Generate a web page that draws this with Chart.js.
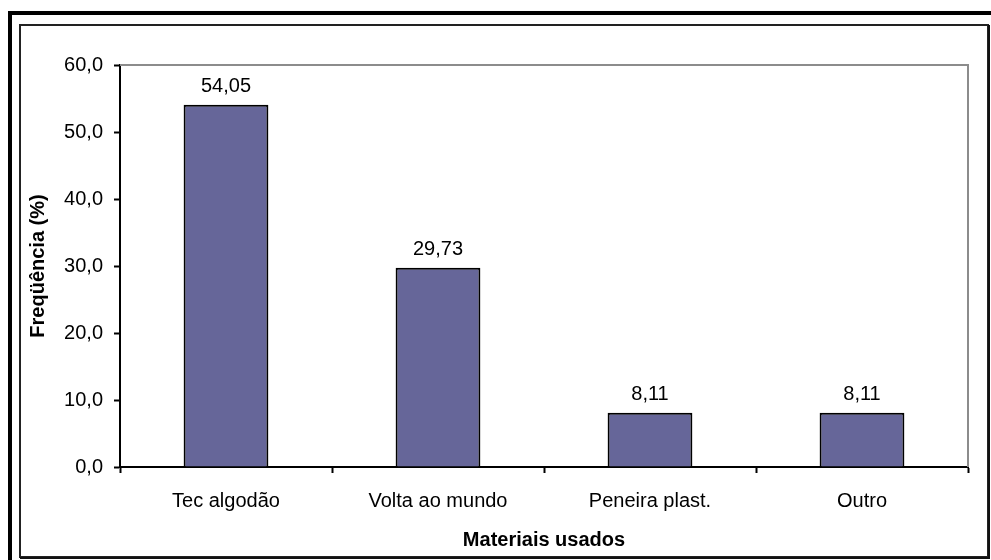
<!DOCTYPE html>
<html>
<head>
<meta charset="utf-8">
<title>Materiais usados</title>
<script src="https://cdn.jsdelivr.net/npm/chart.js@4.4.1/dist/chart.umd.min.js"></script>
<style>
  html, body { margin: 0; padding: 0; background: #fff; }
  #wrap { width: 991px; height: 560px; position: relative; }
</style>
</head>
<body>
<div id="wrap"><canvas id="myChart" width="991" height="560"></canvas></div>
<script>
"use strict";
const categories = ["Tec algodão", "Volta ao mundo", "Peneira plast.", "Outro"];
const frequencia = [54.05, 29.73, 8.11, 8.11];
const yTicks = [0, 10, 20, 30, 40, 50, 60];

const FONT = "'Liberation Sans', Arial, sans-serif";

function virgula(v, casas) {
  return v.toFixed(casas).replace(".", ",");
}

// frames around the whole figure
const moldura = {
  id: "moldura",
  beforeDraw(chart) {
    const c = chart.ctx;
    c.save();
    c.fillStyle = "#fff";
    c.fillRect(0, 0, chart.width, chart.height);
    c.fillStyle = "#000";
    c.fillRect(8, 11, 4, chart.height - 11);
    c.fillRect(8, 11, chart.width - 8, 4);
    c.strokeStyle = "#222";
    c.lineWidth = 2;
    c.strokeRect(20, 25, 968, 532);
    c.fillStyle = "#111";
    c.fillRect(988, 25, 2, 534);
    c.fillRect(20, 557, 970, 2);
    c.restore();
  },
  beforeDatasetsDraw(chart) {
    // gray border on top and right of the plot area
    const { left, top, right, bottom } = chart.chartArea;
    const c = chart.ctx;
    c.save();
    c.strokeStyle = "#8c8c8c";
    c.lineWidth = 2;
    c.beginPath();
    c.moveTo(left, top);
    c.lineTo(right, top);
    c.lineTo(right, bottom);
    c.stroke();
    c.restore();
  },
};

// value labels above each bar
const rotulos = {
  id: "rotulos",
  afterDatasetsDraw(chart) {
    const c = chart.ctx;
    const meta = chart.getDatasetMeta(0);
    c.save();
    c.font = "20px " + FONT;
    c.fillStyle = "#000";
    c.textAlign = "center";
    c.textBaseline = "alphabetic";
    meta.data.forEach((bar, i) => {
      c.fillText(virgula(frequencia[i], 2), bar.x, bar.y - 13);
    });
    c.restore();
  },
};

const ctx = document.getElementById("myChart").getContext("2d");
const myChart = new Chart(ctx, {
  type: "bar",
  data: {
    labels: categories,
    datasets: [
      {
        data: frequencia,
        backgroundColor: "#666699",
        borderColor: "#000",
        borderWidth: 2,
        categoryPercentage: 1,
        barPercentage: 0.4,
      },
    ],
  },
  options: {
    responsive: false,
    animation: false,
    layout: { padding: { top: 65, right: 23, bottom: 0, left: 0 } },
    plugins: {
      legend: { display: false },
      tooltip: { enabled: false },
    },
    scales: {
      x: {
        grid: {
          offset: true,
          drawOnChartArea: false,
          drawTicks: true,
          tickLength: 6,
          tickColor: "#000",
          tickWidth: 2,
        },
        border: { color: "#000", width: 2 },
        ticks: {
          color: "#000",
          font: { family: FONT, size: 20 },
          padding: 16,
          maxRotation: 0,
        },
        title: {
          display: true,
          text: "Materiais usados",
          color: "#000",
          font: { family: FONT, size: 20, weight: "bold" },
          padding: { top: 0, bottom: 8 },
        },
        afterFit(scale) {
          scale.height = 93;
        },
      },
      y: {
        min: 0,
        max: 60,
        afterBuildTicks(scale) {
          scale.ticks = yTicks.map((v) => ({ value: v }));
        },
        grid: {
          drawOnChartArea: false,
          drawTicks: true,
          tickLength: 6,
          tickColor: "#000",
          tickWidth: 2,
        },
        border: { color: "#000", width: 2 },
        ticks: {
          color: "#000",
          font: { family: FONT, size: 20 },
          padding: 11,
          callback: (v) => virgula(v, 1),
        },
        title: {
          display: true,
          text: "Freqüência (%)",
          color: "#000",
          font: { family: FONT, size: 20, weight: "bold" },
          padding: { top: 26, bottom: 0 },
        },
        afterFit(scale) {
          scale.width = 120;
        },
      },
    },
  },
  plugins: [moldura, rotulos],
});
</script>
</body>
</html>
